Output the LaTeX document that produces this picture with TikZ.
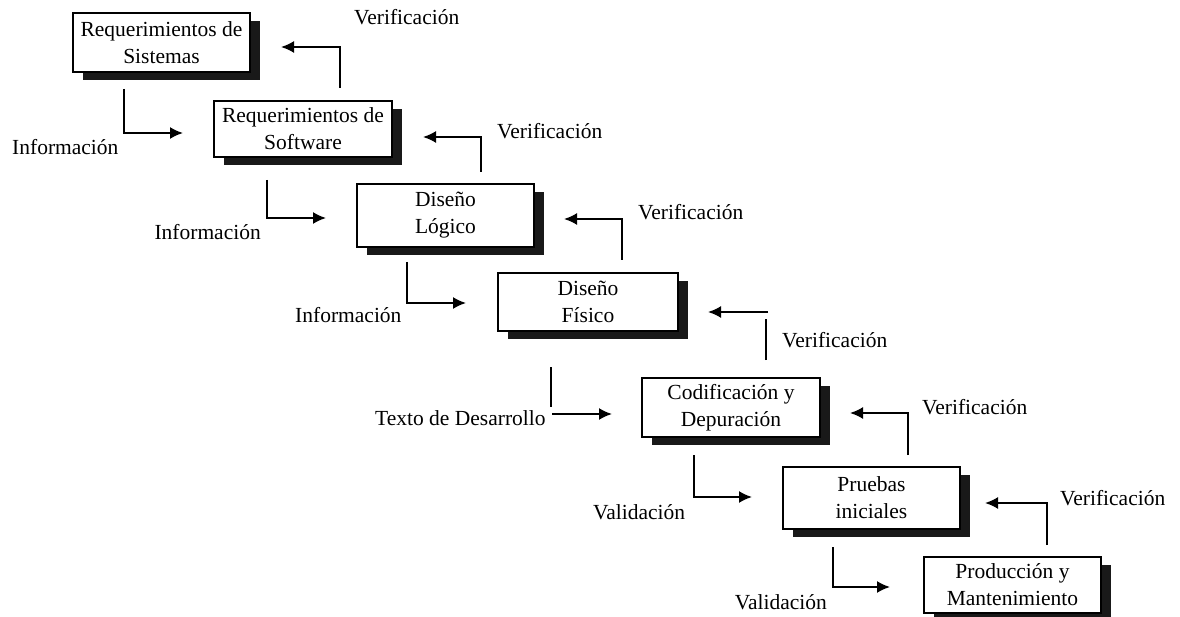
\documentclass[tikz,border=0pt]{standalone}
\usepackage{fontspec}
\setmainfont{Liberation Serif}
\usetikzlibrary{arrows.meta,shadows}

\tikzset{
  phase/.style={draw=black, line width=1.6pt, fill=white, align=center,
    inner sep=0pt, font=\fontsize{21.5pt}{27pt}\selectfont,
    general shadow={shadow xshift=10pt, shadow yshift=-8pt, fill=black!90}},
  lbl/.style={inner sep=0pt, font=\fontsize{21.5pt}{27pt}\selectfont},
  link/.style={line width=1.8pt, black},
  flow/.style={link, -{Latex[length=13pt,width=12pt]}}
}

\begin{document}
\begin{tikzpicture}[x=1pt,y=-1pt]
\useasboundingbox (0,0) rectangle (1180,617);

% phases of the life cycle
\node[phase, minimum width=177pt, minimum height=59pt] (b1) at (161.5,42.5) {Requerimientos de\\Sistemas};
\node[phase, minimum width=178pt, minimum height=56pt] (b2) at (303,129) {Requerimientos de\\Software};
\node[phase, minimum width=177pt, minimum height=63pt] (b3) at (445.5,215.5) {Diseño\\Lógico};
\node[phase, minimum width=180pt, minimum height=58pt] (b4) at (588,302) {Diseño\\Físico};
\node[phase, minimum width=178pt, minimum height=59pt] (b5) at (731,407.5) {Codificación y\\Depuración};
\node[phase, minimum width=177pt, minimum height=62pt] (b6) at (871.5,498) {Pruebas\\iniciales};
\node[phase, minimum width=177pt, minimum height=56pt] (b7) at (1012.5,585) {Producción y\\Mantenimiento};

% forward flow: corner ends
\coordinate (i1s) at (124,89);  \coordinate (i1e) at (183,133);
\coordinate (i2s) at (267,180); \coordinate (i2e) at (326,218);
\coordinate (i3s) at (407,262); \coordinate (i3e) at (466,303);
\coordinate (tas) at (551,367); \coordinate (tae) at (551,407);
\coordinate (tbs) at (552,414); \coordinate (tbe) at (612,414);
\coordinate (a1s) at (694,455); \coordinate (a1e) at (752,497);
\coordinate (a2s) at (833,547); \coordinate (a2e) at (890,587);

\draw[flow] (i1s) |- (i1e);
\draw[flow] (i2s) |- (i2e);
\draw[flow] (i3s) |- (i3e);
\draw[link] (tas) -- (tae);
\draw[flow] (tbs) -- (tbe);
\draw[flow] (a1s) |- (a1e);
\draw[flow] (a2s) |- (a2e);

% feedback: verification arrows
\coordinate (v1s) at (340,88);  \coordinate (v1e) at (281,47);
\coordinate (v2s) at (481,172); \coordinate (v2e) at (423,137);
\coordinate (v3s) at (622,260); \coordinate (v3e) at (564,219);
\coordinate (v4s) at (766,360); \coordinate (v4m) at (766,319);
\coordinate (v4a) at (768,312); \coordinate (v4e) at (708,312);
\coordinate (v5s) at (908,455); \coordinate (v5e) at (850,413);
\coordinate (v6s) at (1047,545); \coordinate (v6e) at (985,503);

\draw[flow] (v1s) |- (v1e);
\draw[flow] (v2s) |- (v2e);
\draw[flow] (v3s) |- (v3e);
\draw[link] (v4s) -- (v4m);
\draw[flow] (v4a) -- (v4e);
\draw[flow] (v5s) |- (v5e);
\draw[flow] (v6s) |- (v6e);

% labels
\node[lbl, anchor=west] (li1) at (12,147) {Información};
\node[lbl, anchor=east] (li2) at (261,232) {Información};
\node[lbl, anchor=west] (li3) at (295,315) {Información};
\node[lbl, anchor=west] (lt)  at (375,418) {Texto de Desarrollo};
\node[lbl, anchor=west] (la1) at (593,512) {Validación};
\node[lbl, anchor=east] (la2) at (827,602) {Validación};

\node[lbl, anchor=west] (lv1) at (354,17)  {Verificación};
\node[lbl, anchor=west] (lv2) at (497,131) {Verificación};
\node[lbl, anchor=west] (lv3) at (638,212) {Verificación};
\node[lbl, anchor=west] (lv4) at (782,340) {Verificación};
\node[lbl, anchor=west] (lv5) at (922,407) {Verificación};
\node[lbl, anchor=west] (lv6) at (1060,498) {Verificación};
\end{tikzpicture}
\end{document}
